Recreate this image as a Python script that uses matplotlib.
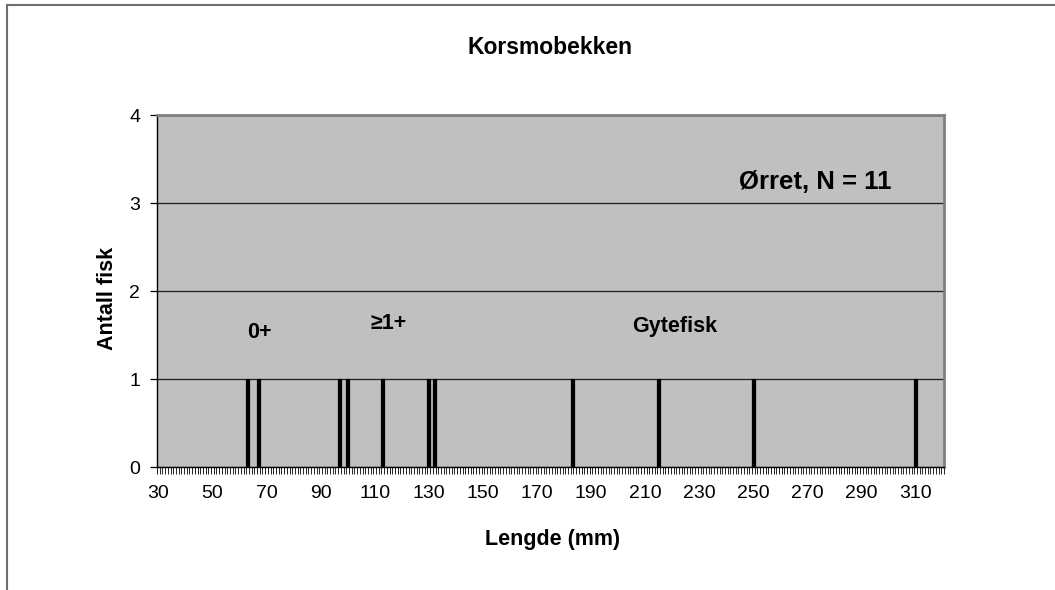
import matplotlib
matplotlib.use("Agg")
import matplotlib.pyplot as plt
import numpy as np
from matplotlib.ticker import FixedLocator
from matplotlib.lines import Line2D

plt.rcParams['font.family'] = ['Liberation Sans', 'DejaVu Sans']

# Data: fish lengths (mm), one fish per bar
lengths = [63, 67, 97, 100, 113, 130, 132, 183, 215, 250, 310]
category_min = 30
category_max = 320
tick_labels = list(range(30, 311, 20))
y_ticks = [0, 1, 2, 3, 4]
group_labels = ["0+", "\u22651+", "Gytefisk"]
group_pos = [(67.5, 1.53), (115, 1.63), (221, 1.6)]

vals, counts = np.unique(lengths, return_counts=True)

W, H = 1055, 590
fig = plt.figure(figsize=(W / 100, H / 100), dpi=100)
fig.patch.set_facecolor('white')

# outer chart border (left and top visible)
fig.add_artist(Line2D([7 / W, 7 / W], [0, 1 - 5 / H], color='#6e6e6e', lw=1.5, transform=fig.transFigure))
fig.add_artist(Line2D([7 / W, 1], [1 - 5 / H, 1 - 5 / H], color='#6e6e6e', lw=1.5, transform=fig.transFigure))

left, right, top, bottom = 157, 944, 115, 467
ax = fig.add_axes([left / W, 1 - bottom / H, (right - left) / W, (bottom - top) / H])
ax.set_facecolor('#C0C0C0')

ax.bar(vals, counts, width=1.1, color='black', edgecolor='black', linewidth=0.9, zorder=3)

ax.set_xlim(category_min - 0.5, category_max + 0.5)
ax.set_ylim(0, 4)

ax.set_yticks(y_ticks)
ax.yaxis.grid(True, color='#202020', linewidth=0.9, zorder=1)
ax.set_axisbelow(True)

ax.xaxis.set_major_locator(FixedLocator(tick_labels))
ax.set_xticklabels([str(t) for t in tick_labels])
ax.xaxis.set_minor_locator(FixedLocator(np.arange(category_min - 0.5, category_max + 0.6, 1.0)))
ax.tick_params(axis='x', which='major', length=0, labelsize=14, pad=13, colors='black')
ax.tick_params(axis='x', which='minor', length=5, width=0.6, direction='out', color='black')
ax.tick_params(axis='y', which='major', length=5, width=0.9, direction='out', labelsize=14, pad=7, color='black')

for s in ['top', 'right']:
    ax.spines[s].set_color('#808080')
    ax.spines[s].set_linewidth(2)
for s in ['left', 'bottom']:
    ax.spines[s].set_color('black')
    ax.spines[s].set_linewidth(1)

ax.set_xlabel('Lengde (mm)', fontsize=15.5, fontweight='bold')
ax.xaxis.set_label_coords(0.503, -0.205)
ax.xaxis.label.set_va('center')
ax.set_ylabel('Antall fisk', fontsize=15.5, fontweight='bold')
ax.yaxis.set_label_coords(-0.0635, 0.48)
ax.yaxis.label.set_va('center')

for lab, (x, y) in zip(group_labels, group_pos):
    ax.text(x, y, lab, fontsize=15.5, fontweight='bold', ha='center', va='center')

ax.text(0.836, 0.81, '\u00d8rret, N = 11', transform=ax.transAxes, fontsize=18.5,
        fontweight='bold', ha='center', va='center')

fig.text(550 / W, 1 - 48 / H, 'Korsmobekken', fontsize=16.5, fontweight='bold', ha='center', va='center')

fig.savefig('out.png', dpi=100)
